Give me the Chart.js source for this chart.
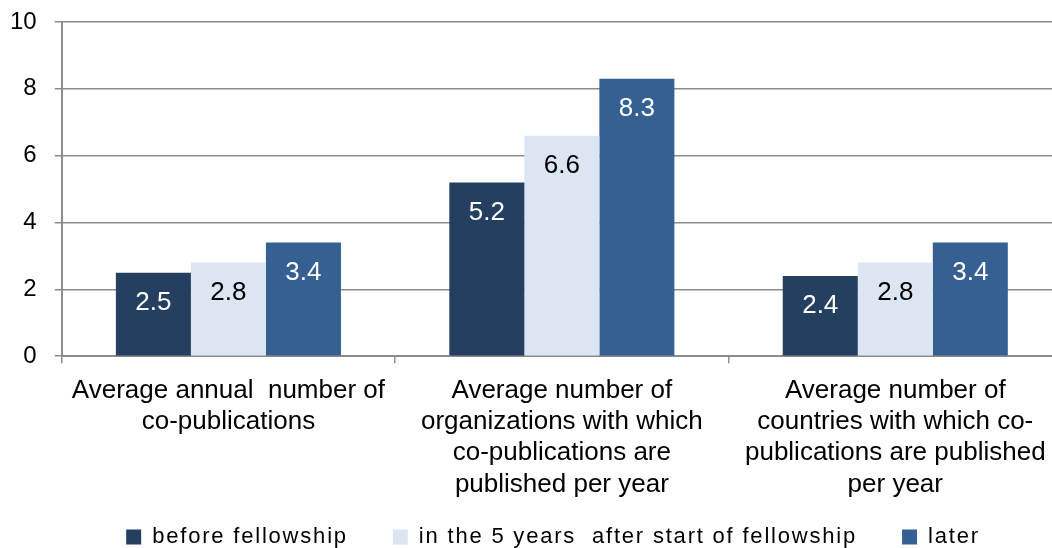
<!DOCTYPE html>
<html>
<head>
<meta charset="utf-8">
<script src="https://cdn.jsdelivr.net/npm/chart.js@4.4.1/dist/chart.umd.min.js"></script>
<style>
  html, body { margin: 0; padding: 0; background: #fff; overflow: hidden; }
  #wrap { width: 1064px; height: 548px; }
</style>
</head>
<body>
<div id="wrap"><canvas id="coPubChart" width="1064" height="548"></canvas></div>
<script>
// Categorias e séries
const categorias = [
    ['Average annual  number of', 'co-publications'],
    ['Average number of', 'organizations with which', 'co-publications are', 'published per year'],
    ['Average number of', 'countries with which co-', 'publications are published', 'per year']
];
const antesFellowship = [2.5, 5.2, 2.4];
const cincoAnosDepois = [2.8, 6.6, 2.8];
const depois = [3.4, 8.3, 3.4];
const yTicks = [0, 2, 4, 6, 8, 10];

const fonte = "'Liberation Sans', Arial, sans-serif";

// rótulos de valor dentro do topo da barra
const rotulosPlugin = {
    id: 'rotulos',
    afterDatasetsDraw(chart) {
        const c = chart.ctx;
        c.save();
        c.font = '26px ' + fonte;
        c.textAlign = 'center';
        c.textBaseline = 'middle';
        chart.data.datasets.forEach((ds, i) => {
            const meta = chart.getDatasetMeta(i);
            meta.data.forEach((bar, j) => {
                c.fillStyle = ds.labelColor;
                c.fillText(ds.data[j].toFixed(1), bar.x, bar.y + 30);
            });
        });
        c.restore();
    }
};

// legenda mais espaçada (estilo Excel)
const legendaPlugin = {
    id: 'legendaEspacada',
    afterInit(chart) {
        const leg = chart.legend;
        const fitOrig = leg.fit.bind(leg);
        const drawOrig = leg.draw.bind(leg);
        leg.fit = function() {
            const c = chart.ctx;
            c.save();
            c.letterSpacing = '1.8px';
            fitOrig();
            c.restore();
            this.height = 36;
        };
        leg.draw = function() {
            const c = chart.ctx;
            const topo = this.top;
            this.top = topo - 31;
            c.save();
            c.letterSpacing = '1.8px';
            c.translate(26, 0);
            drawOrig();
            c.restore();
            this.top = topo;
        };
    }
};

const semPadding = (axis) => {
    axis.paddingLeft = 0;
    axis.paddingRight = 0;
    axis.paddingTop = 0;
    axis.paddingBottom = 0;
};

new Chart(document.getElementById('coPubChart').getContext('2d'), {
    type: 'bar',
    data: {
        labels: categorias,
        datasets: [
            {
                label: 'before fellowship',
                data: antesFellowship,
                backgroundColor: '#243f60',
                labelColor: '#ffffff'
            },
            {
                label: 'in the 5 years  after start of fellowship',
                data: cincoAnosDepois,
                backgroundColor: '#dce6f2',
                labelColor: '#000000'
            },
            {
                label: 'later',
                data: depois,
                backgroundColor: '#376092',
                labelColor: '#ffffff'
            }
        ]
    },
    options: {
        responsive: false,
        animation: false,
        categoryPercentage: 0.675,
        barPercentage: 1,
        layout: { padding: { left: -8, top: 22, right: 2, bottom: 0 } },
        plugins: {
            legend: {
                position: 'bottom',
                labels: {
                    color: '#000',
                    font: { size: 22, family: fonte },
                    boxWidth: 15,
                    boxHeight: 15,
                    padding: 45
                }
            },
            tooltip: { enabled: false }
        },
        scales: {
            x: {
                afterFit: semPadding,
                grid: {
                    drawOnChartArea: false,
                    drawTicks: true,
                    tickLength: 7,
                    color: '#8c8c8c',
                    lineWidth: 1.5
                },
                border: { color: '#8c8c8c', width: 2 },
                ticks: {
                    color: '#000',
                    font: { size: 26, family: fonte, lineHeight: 1.2 },
                    maxRotation: 0,
                    autoSkip: false,
                    padding: 12
                }
            },
            y: {
                min: 0,
                max: 10,
                afterFit: semPadding,
                afterBuildTicks: (axis) => { axis.ticks = yTicks.map(v => ({ value: v })); },
                grid: {
                    color: '#8c8c8c',
                    lineWidth: 1.5,
                    tickLength: 7
                },
                border: { color: '#8c8c8c', width: 2 },
                ticks: {
                    color: '#000',
                    font: { size: 24, family: fonte },
                    padding: 18
                }
            }
        }
    },
    plugins: [rotulosPlugin, legendaPlugin]
});
</script>
</body>
</html>
